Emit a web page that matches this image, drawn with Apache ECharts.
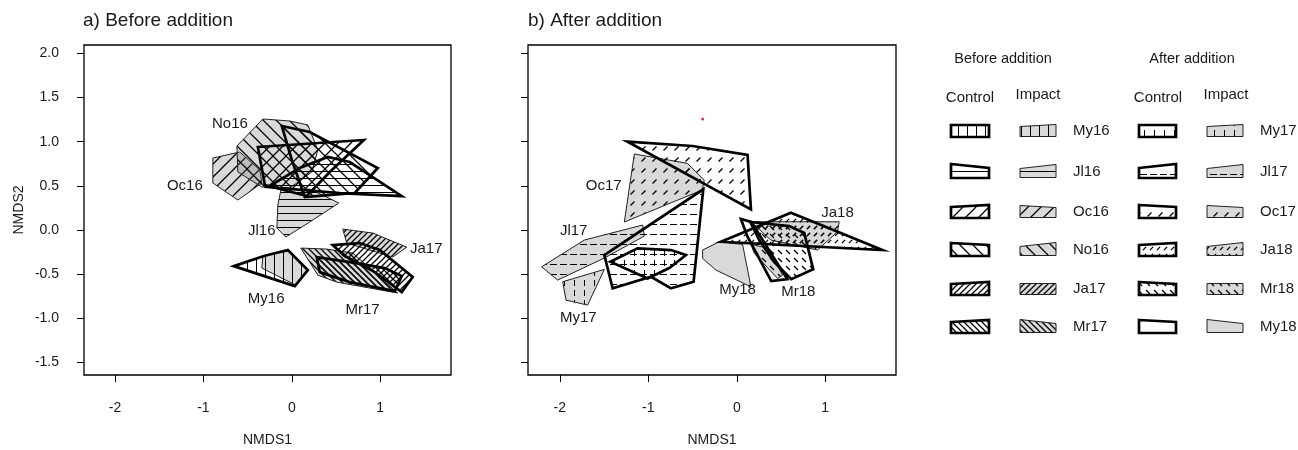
<!DOCTYPE html>
<html><head><meta charset="utf-8">
<script src="https://cdn.jsdelivr.net/npm/echarts@6/dist/echarts.min.js"></script>
<style>html,body{margin:0;padding:0;background:#fff}#c{width:1298px;height:450px}</style>
</head><body><div id="c"></div><script>
// ---------- DATA ----------
const xTicks = [-2, -1, 0, 1];
const yTicks = [-1.5, -1, -0.5, 0, 0.5, 1, 1.5, 2];

// a) Before addition  (NMDS1, NMDS2 hull vertices)
const before_My16_control = [[-0.655,-0.408],[-0.316,-0.294],[-0.045,-0.226],[0.181,-0.453],[0.034,-0.634]];
const before_My16_impact  = [[-0.328,-0.294],[-0.192,-0.260],[-0.023,-0.238],[0.181,-0.464],[0.045,-0.623],[-0.339,-0.430]];
const before_Jl16_control = [[-0.271,0.487],[0.090,0.702],[0.407,0.827],[0.655,0.770],[1.243,0.385],[0.542,0.419]];
const before_Jl16_impact  = [[-0.124,0.453],[0.203,0.464],[0.441,0.351],[0.531,0.306],[0.203,0.091],[-0.068,-0.079],[-0.169,0.023],[-0.158,0.283]];
const before_Oc16_control = [[-0.384,0.940],[0.814,1.019],[0.429,0.657],[0.169,0.385],[-0.305,0.510]];
const before_Oc16_impact  = [[-0.893,0.815],[-0.588,0.883],[-0.362,0.679],[-0.339,0.532],[-0.610,0.340],[-0.893,0.532]];
const before_No16_control = [[-0.113,1.178],[0.203,1.110],[0.972,0.702],[0.712,0.419],[0.147,0.374],[0.0,0.793]];
const before_No16_impact  = [[-0.328,1.257],[-0.023,1.234],[0.181,1.189],[0.294,0.906],[0.226,0.657],[-0.023,0.476],[-0.339,0.487],[-0.610,0.657],[-0.621,0.951]];
const before_Ja17_control = [[0.463,-0.170],[0.768,-0.147],[0.994,-0.226],[1.367,-0.532],[1.243,-0.702],[0.938,-0.476],[0.599,-0.294]];
const before_Ja17_impact  = [[0.576,0.011],[0.915,-0.034],[1.299,-0.193],[1.141,-0.306],[0.621,-0.147]];
const before_Mr17_control = [[0.282,-0.306],[0.655,-0.362],[1.051,-0.430],[1.243,-0.521],[1.164,-0.691],[0.655,-0.589],[0.316,-0.476]];
const before_Mr17_impact  = [[0.102,-0.204],[0.395,-0.215],[0.689,-0.260],[1.198,-0.713],[0.508,-0.589],[0.294,-0.510]];

// b) After addition
const after_My17_control = [[-1.429,-0.359],[-1.121,-0.207],[-0.744,-0.226],[-0.574,-0.283],[-0.763,-0.430],[-1.008,-0.547]];
const after_My17_impact  = [[-1.968,-0.585],[-1.497,-0.445],[-1.686,-0.849],[-1.930,-0.793]];
const after_Jl17_control = [[-0.379,0.461],[-0.488,-0.585],[-0.744,-0.660],[-0.969,-0.529],[-1.403,-0.660],[-1.497,-0.283]];
const after_Jl17_impact  = [[-2.206,-0.416],[-1.723,-0.113],[-1.064,0.057],[-1.045,-0.068],[-1.497,-0.317],[-2.025,-0.566]];
const after_Oc17_control = [[-1.234,1.000],[-0.500,0.951],[0.122,0.849],[0.160,0.234]];
const after_Oc17_impact  = [[-1.158,0.861],[-0.559,0.755],[-0.367,0.566],[-0.390,0.453],[-1.271,0.091]];
const after_Ja18_control = [[-0.179,-0.133],[0.612,0.196],[1.647,-0.226]];
const after_Ja18_impact  = [[0.160,0.094],[1.158,0.094],[1.139,-0.019],[0.913,-0.226],[0.386,-0.113]];
const after_Mr18_control = [[0.153,0.091],[0.593,0.045],[0.763,-0.034],[0.864,-0.442],[0.616,-0.555],[0.424,-0.362],[0.254,-0.113]];
const after_Mr18_impact  = [[0.160,-0.159],[0.348,-0.207],[0.518,-0.510],[0.461,-0.547],[0.198,-0.264]];
const after_My18_control = [[0.047,0.125],[0.164,0.091],[0.571,-0.555],[0.390,-0.578],[0.119,-0.068]];
const after_My18_impact  = [[-0.386,-0.226],[-0.198,-0.133],[0.066,-0.162],[0.160,-0.642],[-0.235,-0.453],[-0.386,-0.321]];
const after_redPoint = [[-0.386, 1.257]];

const beforeLabelNames = ['No16','Oc16','Jl16','Ja17','My16','Mr17'];
const beforeLabelPos = [[-0.70,1.20],[-1.21,0.50],[-0.34,-0.01],[1.52,-0.21],[-0.29,-0.78],[0.80,-0.90]];
const afterLabelNames = ['Oc17','Jl17','My17','My18','Mr18','Ja18'];
const afterLabelPos = [[-1.505,0.498],[-1.844,-0.008],[-1.791,-0.989],[0.009,-0.679],[0.695,-0.699],[1.139,0.196]];

const beforeLegendNames = ['My16','Jl16','Oc16','No16','Ja17','Mr17'];
const afterLegendNames  = ['My17','Jl17','Oc17','Ja18','Mr18','My18'];

// ---------- STYLE ----------
const FF = '"Liberation Sans", Arial, Helvetica, sans-serif';
const TXT = '#1a1a1a';
const GRAY = 'rgba(110,110,110,0.26)';

function tile(w, h, draw) {
  const c = document.createElement('canvas'); c.width = w; c.height = h;
  const g = c.getContext('2d'); g.fillStyle = '#000'; g.strokeStyle = '#000'; g.lineWidth = 1;
  draw(g, w, h);
  return { image: c, repeat: 'repeat' };
}
function diag(p, slash) {
  return tile(p, p, (g) => {
    g.lineWidth = 1.25; g.beginPath();
    if (slash) {
      g.moveTo(-1, p + 1); g.lineTo(p + 1, -1);
      g.moveTo(-1, 1); g.lineTo(1, -1);
      g.moveTo(p - 1, p + 1); g.lineTo(p + 1, p - 1);
    } else {
      g.moveTo(-1, -1); g.lineTo(p + 1, p + 1);
      g.moveTo(p - 1, -1); g.lineTo(p + 1, 1);
      g.moveTo(-1, p - 1); g.lineTo(1, p + 1);
    }
    g.stroke();
  });
}
function dashDiag(p, a, slash) {
  return tile(p, p, (g) => {
    g.lineWidth = 1.3; g.beginPath();
    const m = p / 2;
    if (slash) { g.moveTo(m - a, m + a); g.lineTo(m + a, m - a); }
    else { g.moveTo(m - a, m - a); g.lineTo(m + a, m + a); }
    g.stroke();
  });
}
const PAT = {
  v: tile(9, 9, (g) => g.fillRect(4, 0, 1, 9)),
  h: tile(8, 7, (g) => g.fillRect(0, 3, 8, 1)),
  s13: diag(13, true),
  b13: diag(13, false),
  s6: diag(6, true),
  b6: diag(6, false),
  dv: tile(10, 10, (g) => g.fillRect(4, 0, 1, 6)),
  dh: tile(10, 10, (g) => g.fillRect(0, 4, 7, 1)),
  ds: dashDiag(11, 2, true),
  ds2: dashDiag(7, 1.6, true),
  db: dashDiag(8, 2, false)
};

const beforePolys = [
  { pts: before_Oc16_impact, pat: 's13', impact: true },
  { pts: before_No16_impact, pat: 'b13', impact: true },
  { pts: before_Jl16_impact, pat: 'h', impact: true },
  { pts: before_My16_impact, pat: 'v', impact: true },
  { pts: before_Ja17_impact, pat: 's6', impact: true },
  { pts: before_Mr17_impact, pat: 'b6', impact: true },
  { pts: before_My16_control, pat: 'v' },
  { pts: before_Jl16_control, pat: 'h' },
  { pts: before_Oc16_control, pat: 's13' },
  { pts: before_No16_control, pat: 'b13' },
  { pts: before_Ja17_control, pat: 's6' },
  { pts: before_Mr17_control, pat: 'b6' }
];
const afterPolys = [
  { pts: after_Oc17_impact, pat: 'ds', impact: true },
  { pts: after_Jl17_impact, pat: 'dh', impact: true },
  { pts: after_My17_impact, pat: 'dv', impact: true },
  { pts: after_My18_impact, pat: null, impact: true },
  { pts: after_Ja18_impact, pat: 'ds2', impact: true },
  { pts: after_Mr18_impact, pat: 'db', impact: true },
  { pts: after_Oc17_control, pat: 'ds' },
  { pts: after_Jl17_control, pat: 'dh' },
  { pts: after_My17_control, pat: 'dv' },
  { pts: after_Ja18_control, pat: 'ds2' },
  { pts: after_Mr18_control, pat: 'db' },
  { pts: after_My18_control, pat: null }
];
const beforeLegendPats = ['v','h','s13','b13','s6','b6'];
const afterLegendPats = ['dv','dh','ds','ds2','db',null];

function polySeries(list, idx) {
  return {
    type: 'custom', coordinateSystem: 'cartesian2d', xAxisIndex: idx, yAxisIndex: idx,
    silent: true, encode: { x: 0, y: 1 },
    data: list.map((p, i) => [p.pts[0][0], p.pts[0][1], i]),
    renderItem: function (params, api) {
      const p = list[api.value(2)];
      const pts = p.pts.map((v) => api.coord(v));
      const ch = [];
      if (p.impact) ch.push({ type: 'polygon', shape: { points: pts }, style: { fill: GRAY } });
      if (p.pat) ch.push({ type: 'polygon', shape: { points: pts }, style: { fill: PAT[p.pat] } });
      ch.push({ type: 'polygon', shape: { points: pts },
        style: { fill: 'none', stroke: p.impact ? '#222' : '#000', lineWidth: p.impact ? 1 : 2.7, lineJoin: 'miter' } });
      return { type: 'group', children: ch };
    }
  };
}
function labelSeries(names, pos, idx) {
  return {
    type: 'custom', coordinateSystem: 'cartesian2d', xAxisIndex: idx, yAxisIndex: idx,
    silent: true, encode: { x: 0, y: 1 }, z: 5,
    data: pos.map((v) => [v[0], v[1]]),
    renderItem: function (params, api) {
      const c = api.coord([api.value(0), api.value(1)]);
      return { type: 'text', x: c[0], y: c[1],
        style: { text: names[params.dataIndex], fontSize: 15, fontFamily: FF, fill: TXT, align: 'center', verticalAlign: 'middle' } };
    }
  };
}

// ---------- LEGEND (graphic) ----------
const G = [];
function txt(x, y, text, size, align) {
  G.push({ type: 'text', x: x, y: y, silent: true,
    style: { text: text, fontSize: size, fontFamily: FF, fill: TXT, align: align || 'center', verticalAlign: 'middle' } });
}
function quad(x0, x1, cy, h, tl, tr, pat, impact) {
  const pts = [[x0, cy - h / 2 + tl], [x1, cy - h / 2 + tr], [x1, cy + h / 2], [x0, cy + h / 2]];
  if (impact) G.push({ type: 'polygon', silent: true, shape: { points: pts }, style: { fill: GRAY } });
  if (pat) G.push({ type: 'polygon', silent: true, shape: { points: pts }, style: { fill: PAT[pat] } });
  G.push({ type: 'polygon', silent: true, shape: { points: pts },
    style: { fill: 'none', stroke: impact ? '#222' : '#000', lineWidth: impact ? 1 : 2.7 } });
}
txt(1003, 59, 'Before addition', 14.5);
txt(1192, 59, 'After addition', 14.5);
txt(970, 98, 'Control', 15); txt(1038, 95, 'Impact', 15);
txt(1158, 98, 'Control', 15); txt(1226, 95, 'Impact', 15);
const rowY = [131, 172, 212, 250, 289, 327];
const tiltA = [0, -2, 1, -1, 1, 1];
const tiltB = [1, 2, -1, 2, 0, -2];
rowY.forEach((cy, i) => {
  quad(951, 989, cy, 12, tiltA[i], -tiltA[i], beforeLegendPats[i], false);
  quad(1020, 1056, cy, 11, tiltB[i], -tiltB[i], beforeLegendPats[i], true);
  txt(1073, cy, beforeLegendNames[i], 15, 'left');
  quad(1139, 1176, cy, 12, -tiltA[i], tiltA[i], afterLegendPats[i], false);
  quad(1207, 1243, cy, 11, tiltB[i], -tiltB[i], afterLegendPats[i], true);
  txt(1260, cy, afterLegendNames[i], 15, 'left');
});
txt(83, 21, 'a) Before addition', 19, 'left');
txt(528, 21, 'b) After addition', 19, 'left');

// ---------- AXES ----------
const axisText = { fontSize: 14, color: TXT, fontFamily: FF };
function xAx(i, min) {
  return { gridIndex: i, type: 'value', min: min, max: 1.8, position: 'bottom',
    axisLine: { show: false, onZero: false }, splitLine: { show: false },
    axisTick: { show: true, length: 7, lineStyle: { color: '#000', width: 1 }, customValues: xTicks },
    axisLabel: Object.assign({ customValues: xTicks, margin: 26 }, axisText),
    name: 'NMDS1', nameLocation: 'middle', nameGap: 58, nameTextStyle: axisText };
}
function yAx(i, showLabel) {
  const o = { gridIndex: i, type: 'value', min: -1.64, max: 2.094, position: 'left',
    axisLine: { show: false, onZero: false }, splitLine: { show: false },
    axisTick: { show: true, length: 7, lineStyle: { color: '#000', width: 1 }, customValues: yTicks },
    axisLabel: Object.assign({ show: showLabel, customValues: yTicks, margin: 25, formatter: (v) => Number(v).toFixed(1) }, axisText) };
  if (showLabel) { o.name = 'NMDS2'; o.nameLocation = 'middle'; o.nameGap = 58; o.nameTextStyle = axisText; }
  return o;
}

const chart = echarts.init(document.getElementById('c'), null, { renderer: 'canvas' });
chart.setOption({
  animation: false,
  backgroundColor: '#fff',
  grid: [
    { left: 84, top: 45, width: 367, height: 330, show: true, borderColor: '#000', borderWidth: 1.3, backgroundColor: 'transparent', containLabel: false, outerBoundsMode: 'none' },
    { left: 528, top: 45, width: 368, height: 330, show: true, borderColor: '#000', borderWidth: 1.3, backgroundColor: 'transparent', containLabel: false, outerBoundsMode: 'none' }
  ],
  xAxis: [xAx(0, -2.35), xAx(1, -2.36)],
  yAxis: [yAx(0, true), yAx(1, false)],
  graphic: G,
  series: [
    polySeries(beforePolys, 0),
    polySeries(afterPolys, 1),
    labelSeries(beforeLabelNames, beforeLabelPos, 0),
    labelSeries(afterLabelNames, afterLabelPos, 1),
    { type: 'scatter', xAxisIndex: 1, yAxisIndex: 1, data: after_redPoint, symbolSize: 3, silent: true,
      itemStyle: { color: '#e00000' } }
  ]
});
</script></body></html>
